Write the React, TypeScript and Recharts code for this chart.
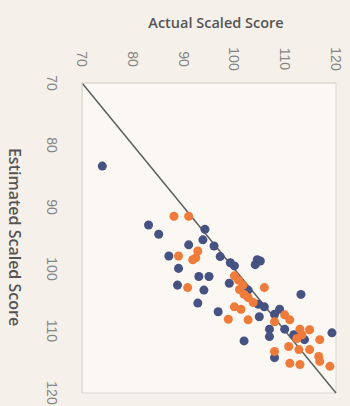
import { ScatterChart, Scatter, XAxis, YAxis, ZAxis, ReferenceLine, ReferenceArea } from 'recharts';

const AXIS_TICKS = [70, 80, 90, 100, 110, 120];

// [actual, estimated] pairs
const BLUE_ACTUAL = [
  74.0, 83.1, 85.1, 94.2, 93.8, 91.0, 96.0, 87.1, 97.2, 99.2, 100.0, 89.0, 104.5, 105.1, 104.1,
  93.0, 95.0, 88.8, 94.0, 99.0, 102.7, 92.8, 96.8, 104.7, 105.9, 104.9, 113.1, 108.9, 107.9,
  109.9, 106.9, 106.9, 111.7, 113.8, 119.2, 101.9, 107.9,
];
const BLUE_ESTIMATED = [
  83.4, 92.9, 94.4, 93.6, 95.3, 96.1, 96.3, 97.9, 98.0, 99.0, 99.5, 99.9, 98.5, 98.7, 99.3,
  101.2, 101.2, 102.6, 103.4, 102.3, 103.4, 105.5, 106.9, 105.7, 106.1, 107.7, 104.1, 106.5, 107.3,
  109.7, 109.7, 110.9, 110.6, 111.4, 110.3, 111.6, 114.3,
];

const ORANGE_ACTUAL = [
  88.1, 91.0, 89.0, 92.4, 92.8, 91.8, 100.0, 100.8, 90.8, 101.7, 105.9, 101.9, 98.8, 100.0, 101.3,
  102.7, 103.7, 102.7, 107.9, 109.9, 110.9, 112.9, 114.8, 112.3, 116.8, 110.7, 112.7, 114.8, 107.9,
  116.6, 116.8, 118.8, 110.9, 112.9, 113.3, 101.0,
];
const ORANGE_ESTIMATED = [
  91.5, 91.5, 97.9, 98.2, 97.1, 98.5, 101.1, 101.8, 103.0, 102.6, 103.0, 104.1, 108.1, 106.1, 106.5,
  104.6, 105.4, 108.2, 108.5, 107.4, 108.2, 109.7, 109.8, 111.2, 111.4, 112.5, 113.0, 113.0, 113.3,
  114.1, 114.9, 115.7, 115.2, 115.4, 110.6, 103.3,
];

const toPoints = (xs: number[], ys: number[]) => xs.map((x, i) => ({ actual: x, estimated: ys[i] }));

const FONT = '"Liberation Sans", Arial, sans-serif';
const TITLE_FONT = '"Open Sans", "Liberation Sans", sans-serif';

const TopTick = ({ x, y, payload }: any) => {
  const cy = y - 16;
  return (
    <text x={x} y={cy} transform={`rotate(90 ${x} ${cy})`} textAnchor="middle" dominantBaseline="central"
      fontSize={14} fill="#858585" fontFamily={FONT}>
      {payload.value}
    </text>
  );
};

const LeftTick = ({ x, y, payload }: any) => {
  const cx = x - 22;
  return (
    <text x={cx} y={y} transform={`rotate(90 ${cx} ${y})`} textAnchor="middle" dominantBaseline="central"
      fontSize={14} fill="#858585" fontFamily={FONT}>
      {payload.value}
    </text>
  );
};

export default function App() {
  const blue = toPoints(BLUE_ACTUAL, BLUE_ESTIMATED);
  const orange = toPoints(ORANGE_ACTUAL, ORANGE_ESTIMATED);

  return (
    <div style={{ position: 'absolute', left: 0, top: 0, width: 350, height: 406, background: '#f5f1ea' }}>
      <ScatterChart width={350} height={406} margin={{ top: 0, right: 14, bottom: 13, left: 0 }}>
        <XAxis
          type="number"
          dataKey="actual"
          orientation="top"
          domain={[70, 120]}
          ticks={AXIS_TICKS}
          height={83}
          tickLine={false}
          axisLine={{ stroke: '#dcd8d2' }}
          tick={<TopTick />}
          label={() => (
            <text x={216} y={22} textAnchor="middle" dominantBaseline="central" fontSize={14.5}
              fontWeight={600} fill="#555" fontFamily={TITLE_FONT}>
              Actual Scaled Score
            </text>
          )}
        />
        <YAxis
          type="number"
          dataKey="estimated"
          reversed
          domain={[70, 120]}
          ticks={AXIS_TICKS}
          width={82}
          tickLine={false}
          axisLine={{ stroke: '#dcd8d2' }}
          tick={<LeftTick />}
          label={() => (
            <text x={15} y={237} transform="rotate(90 15 237)" textAnchor="middle" dominantBaseline="central"
              fontSize={16} fontWeight={600} fill="#555" fontFamily={TITLE_FONT}>
              Estimated Scaled Score
            </text>
          )}
        />
        <ZAxis range={[56, 56]} />
        <ReferenceArea x1={70} x2={120} y1={70} y2={120} fill="#fbf8f3" fillOpacity={1} stroke="#dcd8d2" />
        <ReferenceLine segment={[{ x: 70, y: 70 }, { x: 120, y: 120 }]} stroke="#5e5e5e" strokeWidth={1.5} />
        <Scatter data={blue} fill="#465282" isAnimationActive={false} />
        <Scatter data={orange} fill="#ef7b3a" isAnimationActive={false} />
      </ScatterChart>
    </div>
  );
}
